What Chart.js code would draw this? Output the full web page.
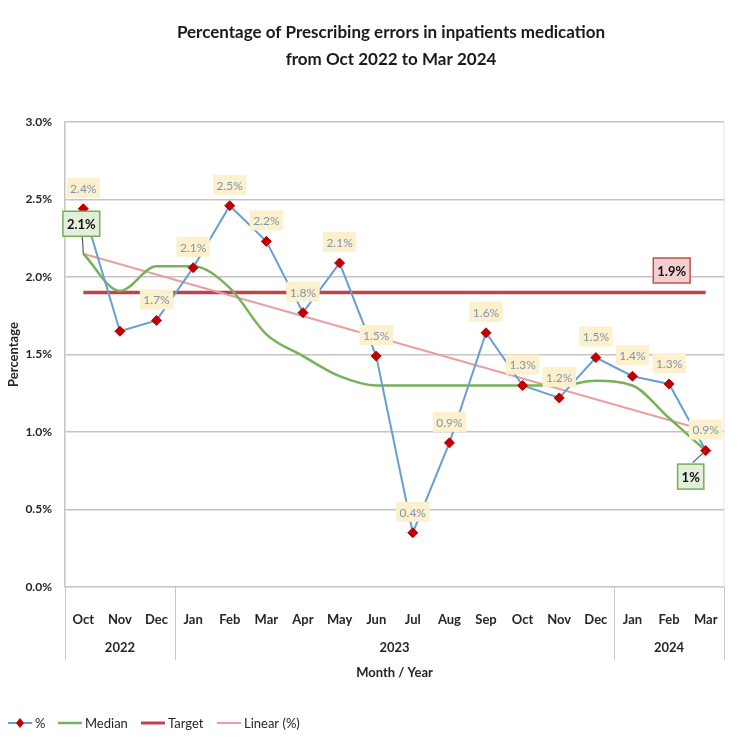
<!DOCTYPE html>
<html>
<head>
<meta charset="utf-8">
<script src="https://cdn.jsdelivr.net/npm/chart.js@4.4.0/dist/chart.umd.min.js"></script>
<style>
  html, body { margin: 0; padding: 0; background: #fff; }
</style>
</head>
<body>
<canvas id="chart" width="750" height="756"></canvas>
<script>
const months = ["Oct", "Nov", "Dec", "Jan", "Feb", "Mar", "Apr", "May", "Jun", "Jul", "Aug", "Sep", "Oct", "Nov", "Dec", "Jan", "Feb", "Mar"];
const yearLabels = ["2022", "2023", "2024"];
const monthsPerYear = [3, 12, 3];

const pctValues = [2.44, 1.65, 1.72, 2.06, 2.46, 2.23, 1.77, 2.09, 1.49, 0.35, 0.93, 1.64, 1.30, 1.22, 1.48, 1.36, 1.31, 0.88];
const pctLabels = ["2.4%", "", "1.7%", "2.1%", "2.5%", "2.2%", "1.8%", "2.1%", "1.5%", "0.4%", "0.9%", "1.6%", "1.3%", "1.2%", "1.5%", "1.4%", "1.3%", "0.9%"];
const medianValues = [2.15, 1.91, 2.07, 2.07, 1.93, 1.63, 1.49, 1.36, 1.30, 1.30, 1.30, 1.30, 1.30, 1.30, 1.33, 1.30, 1.09, 0.88];
const targetValues = [1.9, 1.9, 1.9, 1.9, 1.9, 1.9, 1.9, 1.9, 1.9, 1.9, 1.9, 1.9, 1.9, 1.9, 1.9, 1.9, 1.9, 1.9];
const linearEnds = [2.15, 1.01]; // trend line at first and last month
const medianCallouts = ["2.1%", "1%"];
const targetCallout = "1.9%";
const yTicks = [0, 0.5, 1.0, 1.5, 2.0, 2.5, 3.0];

const FONT = "Lato, 'Open Sans', sans-serif";
const colors = {
  pct: "#6a9ecf",
  marker: "#c00000",
  median: "#77b159",
  target: "#c0424a",
  linear: "#e5a0a0",
};

// trend line only has its two end values, the rest are gaps spanned by the line
const linearData = months.map((_, i) =>
  i === 0 ? linearEnds[0] : i === months.length - 1 ? linearEnds[1] : null);

function box(ctx, cx, cy, text, font, bg, border, color) {
  ctx.font = font;
  const w = ctx.measureText(text).width + 8;
  const h = 25;
  ctx.fillStyle = bg;
  ctx.fillRect(cx - w / 2, cy - h / 2, w, h);
  if (border) {
    ctx.strokeStyle = border;
    ctx.lineWidth = 1.5;
    ctx.strokeRect(cx - w / 2, cy - h / 2, w, h);
  }
  ctx.fillStyle = color;
  ctx.textAlign = "center";
  ctx.textBaseline = "middle";
  ctx.fillText(text, cx, cy + 1);
}

const annotate = {
  id: "annotate",
  afterDatasetsDraw(chart) {
    const ctx = chart.ctx;
    const x = chart.scales.x, y = chart.scales.y;
    const area = chart.chartArea;
    ctx.save();

    // right plot border
    ctx.strokeStyle = "#e3e3e3";
    ctx.lineWidth = 1;
    ctx.beginPath();
    ctx.moveTo(area.right, area.top);
    ctx.lineTo(area.right, area.bottom);
    ctx.stroke();

    // value labels
    ctx.font = "12px " + FONT;
    pctValues.forEach((v, i) => {
      if (!pctLabels[i]) return;
      const px = x.getPixelForValue(i);
      const py = y.getPixelForValue(v) - 21;
      const w = ctx.measureText(pctLabels[i]).width + 7;
      ctx.fillStyle = "#fcf0cd";
      ctx.fillRect(px - w / 2, py - 10, w, 20);
      ctx.fillStyle = "#8194ad";
      ctx.textAlign = "center";
      ctx.textBaseline = "middle";
      ctx.fillText(pctLabels[i], px, py + 1);
    });

    // median callouts with leader lines
    const last = medianValues.length - 1;
    const m0x = x.getPixelForValue(0), m0y = y.getPixelForValue(medianValues[0]);
    const m1x = x.getPixelForValue(last), m1y = y.getPixelForValue(medianValues[last]);
    ctx.strokeStyle = "#595959";
    ctx.lineWidth = 1.2;
    ctx.beginPath();
    ctx.moveTo(m0x, m0y);
    ctx.lineTo(m0x - 1, m0y - 17);
    ctx.moveTo(m1x, m1y);
    ctx.lineTo(m1x - 13, m1y + 12);
    ctx.stroke();
    box(ctx, m0x - 2, m0y - 30, medianCallouts[0], "bold 13px " + FONT, "#e3efda", "#78ad52", "#111");
    box(ctx, m1x - 15, m1y + 26, medianCallouts[1], "bold 13px " + FONT, "#e3efda", "#78ad52", "#111");

    // target callout
    const tl = targetValues.length - 1;
    box(ctx, x.getPixelForValue(tl) - 34, y.getPixelForValue(targetValues[tl]) - 22, targetCallout,
      "bold 13px " + FONT, "#f5cfcf", "#c0504d", "#111");
    ctx.restore();
  },
  afterDraw(chart) {
    const ctx = chart.ctx;
    const x = chart.scales.x;
    const area = chart.chartArea;
    ctx.save();

    // title
    ctx.fillStyle = "#1a1a1a";
    ctx.font = "bold 17px " + FONT;
    ctx.textAlign = "center";
    ctx.textBaseline = "middle";
    ctx.fillText("Percentage of Prescribing errors in inpatients medication", 391, 33);
    ctx.fillText("from Oct 2022 to Mar 2024", 391, 60);

    // year separators and year labels
    ctx.strokeStyle = "#c8c8c8";
    ctx.lineWidth = 1;
    let start = 0;
    const edges = [-0.5];
    monthsPerYear.forEach((n, k) => {
      const a = x.getPixelForValue(start - 0.5);
      const b = x.getPixelForValue(start + n - 0.5);
      edges.push(start + n - 0.5);
      ctx.fillStyle = "#262626";
      ctx.font = "bold 13px " + FONT;
      ctx.fillText(yearLabels[k], (a + b) / 2, area.bottom + 61);
      start += n;
    });
    edges.forEach(e => {
      const px = Math.round(x.getPixelForValue(e)) + 0.5;
      ctx.beginPath();
      ctx.moveTo(px, area.bottom);
      ctx.lineTo(px, area.bottom + 73);
      ctx.stroke();
    });

    // legend
    const ly = 723;
    ctx.font = "13px " + FONT;
    ctx.textAlign = "left";
    const items = [
      { text: "%", color: colors.pct, x0: 8, marker: true, w: 2 },
      { text: "Median", color: colors.median, x0: 58, w: 2.5 },
      { text: "Target", color: colors.target, x0: 141, w: 3 },
      { text: "Linear (%)", color: colors.linear, x0: 217, w: 2 },
    ];
    items.forEach(it => {
      ctx.strokeStyle = it.color;
      ctx.lineWidth = it.w;
      ctx.beginPath();
      ctx.moveTo(it.x0, ly);
      ctx.lineTo(it.x0 + 24, ly);
      ctx.stroke();
      if (it.marker) {
        ctx.fillStyle = colors.marker;
        ctx.beginPath();
        ctx.moveTo(it.x0 + 12, ly - 5);
        ctx.lineTo(it.x0 + 16, ly);
        ctx.lineTo(it.x0 + 12, ly + 5);
        ctx.lineTo(it.x0 + 8, ly);
        ctx.closePath();
        ctx.fill();
      }
      ctx.fillStyle = "#262626";
      ctx.fillText(it.text, it.x0 + 27, ly + 1);
    });
    ctx.restore();
  },
};

new Chart(document.getElementById("chart"), {
  type: "line",
  data: {
    labels: months,
    datasets: [
      {
        label: "%",
        data: pctValues,
        borderColor: colors.pct,
        borderWidth: 2,
        pointStyle: "rectRot",
        pointRadius: 5,
        pointBackgroundColor: colors.marker,
        pointBorderColor: colors.marker,
        pointBorderWidth: 1,
        tension: 0,
      },
      {
        label: "Median",
        data: medianValues,
        borderColor: colors.median,
        borderWidth: 2.5,
        pointRadius: 0,
        cubicInterpolationMode: "monotone",
      },
      {
        label: "Linear (%)",
        data: linearData,
        spanGaps: true,
        borderColor: colors.linear,
        borderWidth: 2,
        pointRadius: 0,
      },
      {
        label: "Target",
        data: targetValues,
        borderColor: colors.target,
        borderWidth: 3.5,
        pointRadius: 0,
      },
    ],
  },
  options: {
    responsive: false,
    animation: false,
    devicePixelRatio: 1,
    layout: { padding: { top: 122, left: 0, right: 26, bottom: 69 } },
    plugins: {
      legend: { display: false },
      title: { display: false },
      tooltip: { enabled: false },
    },
    scales: {
      x: {
        type: "category",
        offset: true,
        grid: { display: false },
        border: { display: false },
        ticks: {
          autoSkip: false,
          maxRotation: 0,
          padding: 17,
          color: "#262626",
          font: { family: FONT, size: 13, weight: "bold" },
        },
        title: {
          display: true,
          text: "Month / Year",
          color: "#262626",
          font: { family: FONT, size: 13, weight: "bold" },
          padding: { top: 0, bottom: 6 },
        },
        afterFit: (s) => { s.height = 100; },
      },
      y: {
        min: yTicks[0],
        max: yTicks[yTicks.length - 1],
        afterBuildTicks: (s) => { s.ticks = yTicks.map(v => ({ value: v })); },
        grid: { color: "#c4c4c4", lineWidth: 1.5, drawTicks: false },
        border: { color: "#c4c4c4", width: 1.5 },
        ticks: {
          padding: 13,
          color: "#262626",
          font: { family: FONT, size: 12, weight: "bold" },
          callback: (v) => v.toFixed(1) + "%",
        },
        title: {
          display: true,
          text: "Percentage",
          color: "#262626",
          font: { family: FONT, size: 13, weight: "bold" },
          padding: { top: 6, bottom: 0 },
        },
        afterFit: (s) => { s.width = 65; },
      },
    },
  },
  plugins: [annotate],
});
</script>
</body>
</html>
